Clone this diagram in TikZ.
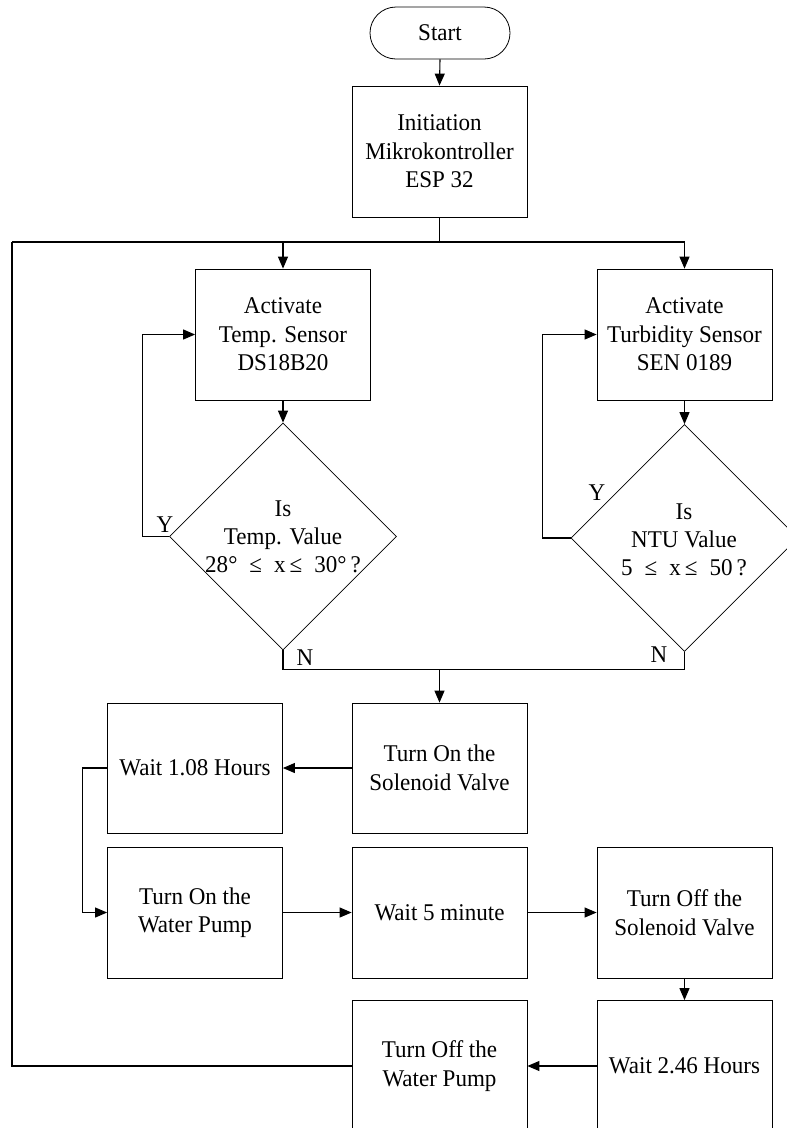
\documentclass[tikz,border=0pt]{standalone}
\usepackage{fontspec}
\setmainfont{Liberation Serif}[FakeStretch=0.96]
\usetikzlibrary{arrows.meta,shapes.geometric}

\tikzset{
  procbox/.style={draw, line width=0.8pt, minimum width=175pt, minimum height=131pt,
    inner sep=0pt, align=center, font=\fontsize{24}{28.5}\selectfont},
  termbox/.style={draw, line width=0.8pt, rounded corners=26pt, minimum width=140pt,
    minimum height=52pt, inner sep=0pt, font=\fontsize{24}{28.5}\selectfont},
  decbox/.style={draw, diamond, line width=0.8pt, minimum width=227pt,
    minimum height=227pt, inner sep=0pt},
  dectext/.style={align=center, inner sep=0pt, font=\fontsize{24}{28}\selectfont},
  yn/.style={inner sep=0pt, font=\fontsize{24}{28}\selectfont},
  conn/.style={line width=1.1pt},
  arr/.style={conn, -{Triangle[length=12pt,width=10pt]}}
}

\begin{document}
\begin{tikzpicture}[x=1pt, y=-1pt]
  \useasboundingbox (0,0) rectangle (787,1128);
  \clip (0,0) rectangle (787,1128);
  \fill[white] (0,0) rectangle (787,1128);

  % blocks
  \node[termbox] (start) at (440,33) {Start};
  \node[procbox] (init) at (439.5,151.5) {Initiation\\Mikrokontroller\\ESP 32};
  \node[procbox] (act1) at (283,334.5) {Activate\\Temp. Sensor\\DS18B20};
  \node[procbox] (act2) at (684.5,334.5) {Activate\\Turbidity Sensor\\SEN 0189};

  \node[decbox] (dia1) at (283,536.5) {};
  \node[dectext] (dia1t) at (283,537) {Is\\Temp. Value\\28°\enspace ≤\enspace x\,≤\enspace 30°\,?};
  \node[decbox] (dia2) at (684.5,538) {};
  \node[dectext] (dia2t) at (684,540) {Is\\NTU Value\\5\enspace ≤\enspace x\,≤\enspace 50\,?};

  \node[procbox, minimum height=130pt] (sol) at (439.5,768) {Turn On the\\Solenoid Valve};
  \node[procbox, minimum height=130pt] (wait1) at (195,768) {Wait 1.08 Hours};
  \node[procbox] (pump) at (195,912.5) {Turn On the\\Water Pump};
  \node[procbox] (wait5) at (439.5,912.5) {Wait 5 minute};
  \node[procbox] (soloff) at (684.5,912.5) {Turn Off the\\Solenoid Valve};
  \node[procbox] (wait2) at (684.5,1066) {Wait 2.46 Hours};
  \node[procbox] (pumpoff) at (439.5,1066) {Turn Off the\\Water Pump};

  % return bus corner
  \coordinate (cl) at (12,242);

  % connectors
  \draw[arr] (start.south) -- (init.north);
  \draw[conn] (init.south) -- (init.south |- cl);
  \draw[arr] (cl) -| (act2.north);
  \draw[arr] (act1.north |- cl) -- (act1.north);
  \draw[conn] (pumpoff.west) -| (cl);

  \draw[arr] (act1.south) -- (dia1.north);
  \draw[arr] (act2.south) -- (dia2.north);
  \draw[arr] (dia1.west) -- ++(-27,0) |- (act1.west);
  \draw[arr] (dia2.west) -- ++(-28,0) |- (act2.west);

  \draw[conn] (dia1.south) -- ++(0,19) coordinate (nl) -| (dia2.south);
  \draw[arr] (sol.north |- nl) -- (sol.north);

  \draw[arr] (sol.west) -- (wait1.east);
  \draw[arr] (wait1.west) -- ++(-25,0) |- (pump.west);
  \draw[arr] (pump.east) -- (wait5.west);
  \draw[arr] (wait5.east) -- (soloff.west);
  \draw[arr] (soloff.south) -- (wait2.north);
  \draw[arr] (wait2.west) -- (pumpoff.east);

  % branch labels
  \node[yn] (y1) at (165,525) {Y};
  \node[yn] (y2) at (597,493) {Y};
  \node[yn] (n1) at (305,658) {N};
  \node[yn] (n2) at (659,655) {N};
\end{tikzpicture}
\end{document}
